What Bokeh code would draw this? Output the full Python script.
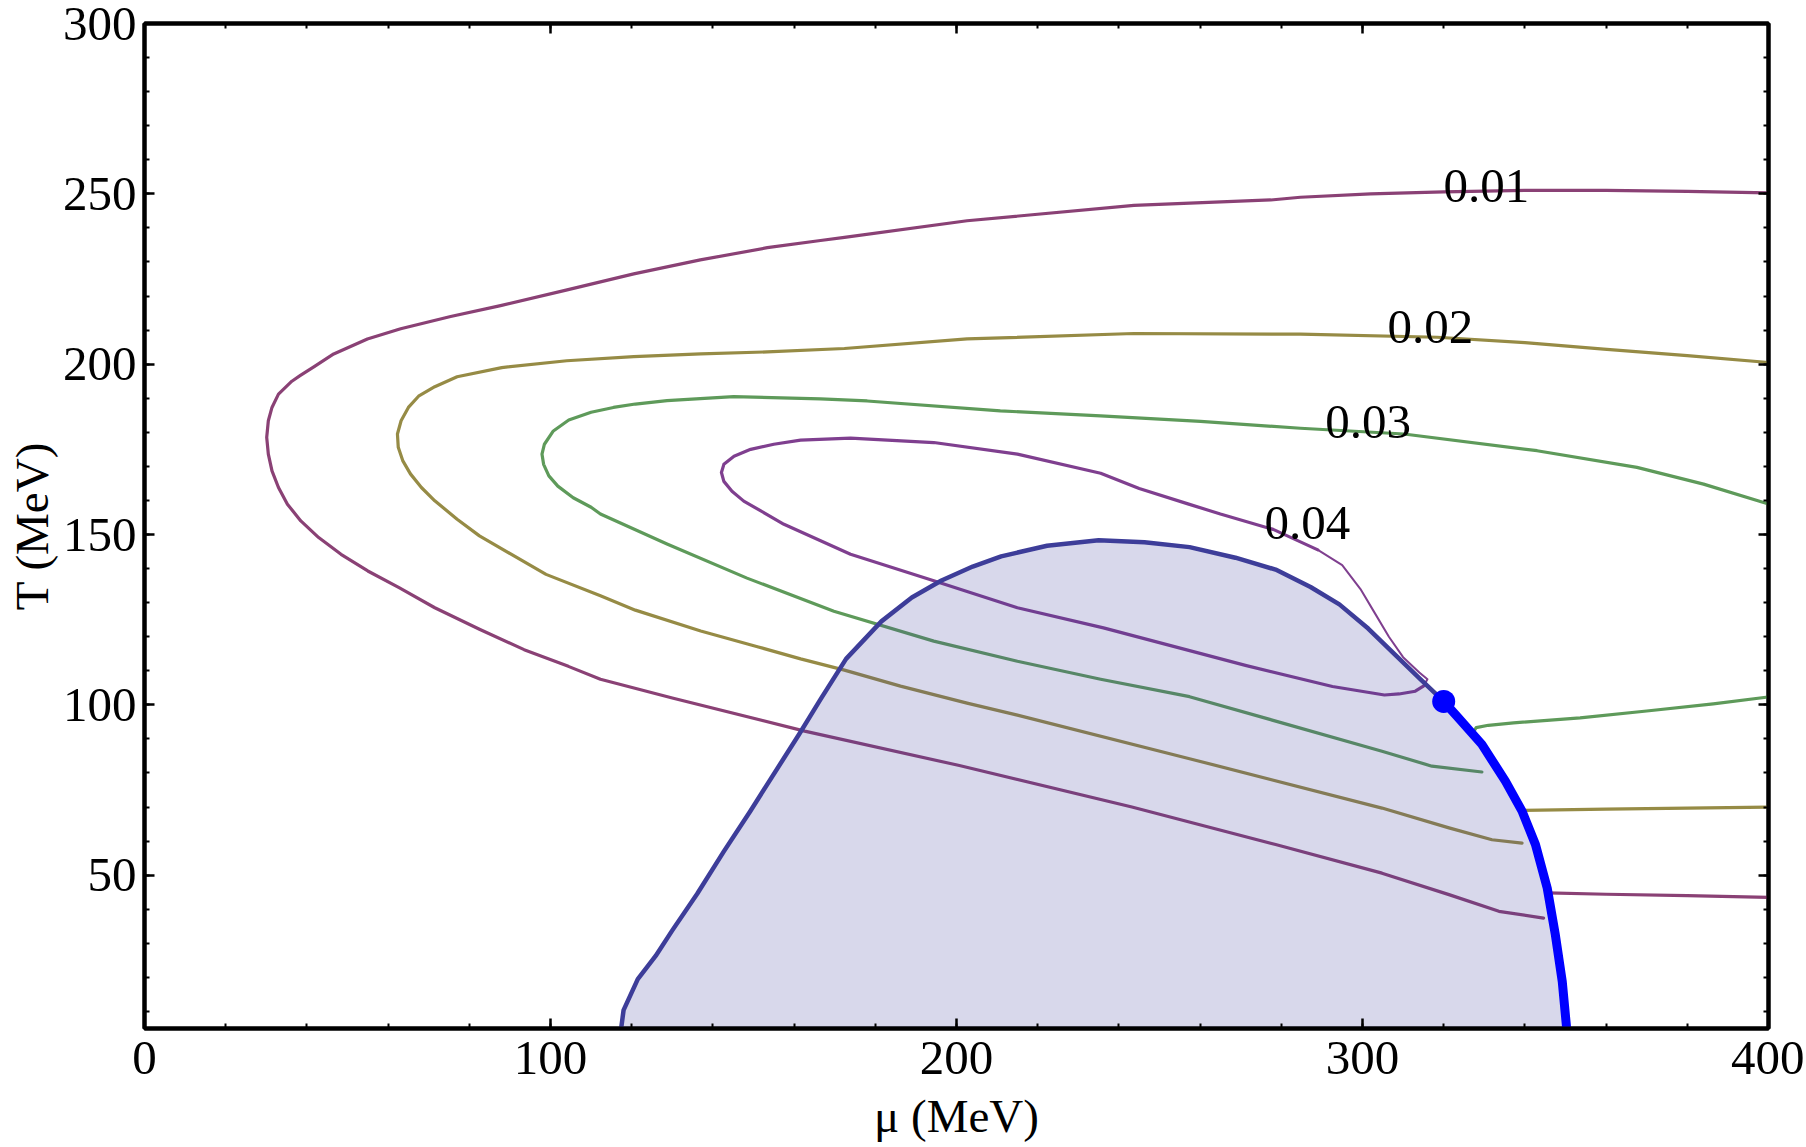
import numpy as np
from bokeh.plotting import figure
from bokeh.models import Range1d, LinearAxis, FixedTicker, ColumnDataSource, Title
from bokeh.embed import file_html
from bokeh.resources import INLINE
from bokeh.core.properties import value

# ---------------- data ----------------
x_ticks = [0, 100, 200, 300, 400]
x_minor = list(range(0, 401, 20))
y_ticks = [50, 100, 150, 200, 250, 300]
y_minor = list(range(10, 301, 10))

# contour 0.01
mu01 = [400, 380, 360, 340, 320, 302, 284.7, 277.4, 243.7, 202.6, 172.4, 166.5, 153.4, 136.9, 120.5,
        104.1, 87.7, 75.4, 63.1, 54.9, 46.6, 41.8, 38.4, 36.3, 33, 31.4, 30.5, 30.1, 30.5, 31.4, 33,
        35.2, 38.5, 42.9, 48.4, 55, 62.7, 71.5, 82.5, 93.5, 104.4, 112.3, 130, 162.6, 200.7, 243.2,
        278.6, 304.8, 321.3, 333.6, 344.6]
T01 = [250.3, 250.7, 251.0, 251.0, 250.6, 250.0, 249.0, 248.2, 246.6, 242.1, 237.2, 236.3, 234.2, 230.6,
       226.5, 221.8, 217.2, 214.0, 210.4, 207.4, 203.0, 199.3, 196.7, 195.0, 191.2, 187.3, 183.4, 178.5,
       173.6, 168.7, 163.8, 158.9, 154.0, 149.1, 144.2, 139.3, 134.4, 128.5, 122.2, 116.2, 111.3, 107.5,
       102.0, 92.3, 82.2, 70.0, 59.0, 50.6, 44.3, 39.4, 37.4]
mu01r = [345.5, 360, 380, 399.9]
T01r = [44.8, 44.4, 44.0, 43.5]

# contour 0.02
mu02 = [400, 380, 359.4, 340, 318.4, 284.7, 243.7, 202.6, 172.4, 153.4, 137, 120.5, 104, 88, 77, 71.5,
        67.5, 65, 63.2, 62.3, 62.5, 63.6, 65.5, 68.2, 71.5, 77, 82.5, 98.9, 112.3, 120.9, 137, 151.2,
        161.6, 172.4, 186.2, 202.6, 215, 257.4, 304.8, 321.3, 331.9, 339.3]
T02 = [200.5, 202.5, 204.4, 206.3, 207.9, 208.8, 209.0, 207.4, 204.6, 203.6, 203.0, 202.2, 201.0, 199.0,
       196.3, 193.4, 190.6, 187.3, 183.4, 179.5, 175.6, 171.7, 167.8, 163.8, 159.9, 154.5, 149.6, 138.3,
       132.0, 127.8, 121.7, 117.0, 113.5, 110.2, 105.5, 100.5, 97.0, 84.2, 69.7, 63.9, 60.4, 59.4]
mu02r = [339.3, 360, 380, 399.9]
T02r = [69.0, 69.4, 69.7, 70.0]

# contour 0.03
mu03 = [400, 398.8, 384, 367.6, 343, 310.2, 284.7, 260.1, 235.5, 210.8, 178, 166.5, 145.1, 128.7, 120.9,
        115.5, 110, 104.5, 100.7, 98.5, 97.9, 98.3, 99.6, 101.8, 105.6, 110, 112.3, 128.7, 148.4, 169.8,
        194.4, 215, 235.5, 257.4, 304.8, 317.1, 329.4]
T03 = [159.0, 159.4, 164.8, 169.7, 174.6, 179.5, 181.2, 183.2, 184.8, 186.3, 189.2, 189.8, 190.5, 189.3,
       188.3, 187.3, 185.9, 183.6, 180.4, 176.5, 173.6, 170.6, 167.2, 164.2, 160.8, 158.0, 156.0, 147.2,
       137.2, 127.5, 118.7, 112.8, 107.5, 102.4, 86.4, 82.0, 80.3]
mu03r = [329, 327, 328, 331, 337.2, 353.6, 370, 386.4, 399.9]
T03r = [88.8, 91.5, 93.3, 94.0, 94.7, 96.2, 98.2, 100.3, 102.3]

# contour 0.04 (thick loop and thin upper-right tail)
mu04 = [315, 313, 309, 305.4, 292.6, 271.4, 236.2, 215, 194.4, 173.9, 157.5, 151.7, 147.6, 144.7, 142.7,
        142.1, 142.7, 145.2, 149.3, 155, 161.6, 173.9, 194.4, 215, 235.5, 245, 257, 265, 278, 289]
T04 = [105.5, 104.0, 103.2, 102.9, 105.4, 111.5, 122.6, 128.5, 136.4, 144.2, 153.0, 157.0, 159.8, 162.7,
       165.6, 168.2, 170.6, 173.0, 175.0, 176.5, 177.7, 178.3, 177.0, 173.6, 168.0, 163.5, 159.0, 156.0,
       151.5, 145.5]
mu04t = [289, 295, 299.5, 303, 306.5, 310, 314, 316, 315]
T04t = [145.5, 141.0, 134.0, 127.0, 120.0, 114.0, 109.5, 107.5, 105.5]

# boundary of the shaded region (from the bottom-left up to the critical point)
bmu = [117.4, 118, 121.5, 125.9, 130, 136.1, 142.7, 149.2, 161.2, 166.5, 172.8, 181.5, 189, 196.3, 204,
       211, 222.3, 235, 246.3, 257.4, 268.7, 278.6, 287.2, 294.3, 301.4, 308.2, 314.3, 320]
bT = [5, 10.4, 19.5, 26.3, 33.8, 44.5, 57, 68.8, 91.3, 101.6, 113.5, 124.5, 131.5, 136.5, 140.6, 143.6,
      146.7, 148.3, 147.7, 146.3, 143.2, 139.7, 134.6, 129.5, 122.4, 114.5, 107.5, 101]

# first-order transition line (thick blue)
pmu = [320, 323.6, 329.4, 335.2, 339.3, 342.6, 345.5, 347.5, 349.2, 350.2, 350.4]
pT = [101, 96.2, 88.4, 77.6, 68.8, 59, 46.2, 32.5, 18.8, 6.1, 3]

# critical point
cp_mu = [320]
cp_T = [101]

# contour labels
lab_text = ["0.01", "0.02", "0.03", "0.04"]
lab_mu = [330.5, 316.7, 301.4, 286.4]
lab_T = [252.4, 210.8, 182.9, 153.5]

c01 = "#8a4175"
c02 = "#968b45"
c03 = "#5e9a5a"
c04 = "#7f3f8f"
navy = "#3d3d99"
FONT = "Liberation Serif"

# ---------------- figure ----------------
p = figure(frame_width=1624, frame_height=1005,
           min_border_left=144, min_border_right=36, min_border_top=23, min_border_bottom=117,
           x_range=Range1d(0, 400), y_range=Range1d(5, 300),
           output_backend="svg", toolbar_location=None,
           background_fill_color="white", border_fill_color="white")
p.xgrid.visible = False
p.ygrid.visible = False
p.outline_line_color = "black"
p.outline_line_width = 4


def style(ax, ticks, minor, labels=True):
    ax.ticker = FixedTicker(ticks=ticks, minor_ticks=minor)
    ax.axis_line_width = 4
    ax.axis_line_color = "black"
    ax.major_tick_in = 10
    ax.major_tick_out = 0
    ax.minor_tick_in = 5
    ax.minor_tick_out = 0
    ax.major_tick_line_width = 2.5
    ax.minor_tick_line_width = 2
    ax.major_tick_line_color = "black"
    ax.minor_tick_line_color = "black"
    ax.major_label_text_font = FONT
    ax.major_label_text_font_size = "49px"
    ax.major_label_text_color = "black"
    ax.axis_label_text_font = FONT
    ax.axis_label_text_font_size = "47px"
    ax.axis_label_text_font_style = "normal"
    ax.axis_label_text_color = "black"
    if not labels:
        ax.major_label_overrides = {t: "" for t in ticks}


style(p.xaxis[0], x_ticks, x_minor)
p.xaxis[0].major_label_standoff = 13
p.xaxis[0].axis_label = "\u03bc (MeV)"
p.xaxis[0].axis_label_standoff = 13
style(p.yaxis[0], y_ticks, y_minor)
p.yaxis[0].major_label_standoff = 8

# y-axis title as a side-panel title, vertically centred on the frame
p.add_layout(Title(text="T (MeV)", align="center", vertical_align="middle", standoff=2,
                   text_font=FONT, text_font_size="47px", text_font_style="normal",
                   text_color="black"), "left")

top = LinearAxis()
style(top, x_ticks, x_minor, labels=False)
p.add_layout(top, "above")
right = LinearAxis()
style(right, y_ticks, y_minor, labels=False)
p.add_layout(right, "right")

# contour lines
lw = 3.2
for xs, ys, col in [(mu01, T01, c01), (mu01r, T01r, c01), (mu02, T02, c02), (mu02r, T02r, c02),
                    (mu03, T03, c03), (mu03r, T03r, c03), (mu04, T04, c04)]:
    p.line(xs, ys, line_color=col, line_width=lw, line_join="round", line_cap="round")
p.line(mu04t, T04t, line_color=c04, line_width=2, line_join="round", line_cap="round")

# shaded region (translucent fill over the contours)
poly_x = bmu + pmu[1:]
poly_y = bT + pT[1:]
p.patch(poly_x, poly_y, fill_color=navy, fill_alpha=0.2, line_color=None)
p.line(bmu, bT, line_color=navy, line_width=4.5, line_join="round")
p.line(pmu, pT, line_color=navy, line_width=4.5, line_join="round")

# first-order line and critical point
p.line(pmu, pT, line_color="#0000ff", line_width=9, line_join="round", line_cap="round")
p.scatter(cp_mu, cp_T, size=23, fill_color="#0000ff", line_color=None)

# contour labels
src = ColumnDataSource(dict(x=lab_mu, y=lab_T, t=lab_text))
p.text(x="x", y="y", text="t", source=src, text_font=value(FONT), text_font_size="49px",
       text_align="center", text_baseline="alphabetic", text_color="black")

open("out.html", "w").write(file_html(p, INLINE))
